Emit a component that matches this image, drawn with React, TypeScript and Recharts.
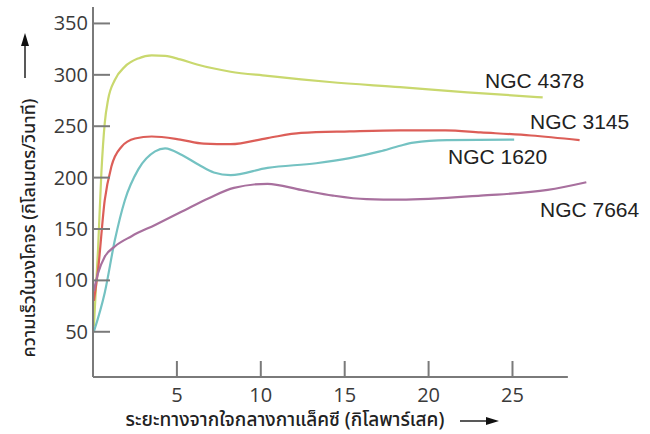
import React from 'react';
import { LineChart, Line, XAxis, YAxis, ReferenceLine } from 'recharts';

// NGC 4378
const x4378 = [0.05, 0.3, 0.5, 0.7, 0.9, 1.3, 1.9, 2.7, 3.5, 4.3, 5.2, 6.2, 8.2, 10.4, 12.4, 14.1, 18.3, 22.3, 26.8];
const y4378 = [55, 130, 205, 253, 276, 295, 308, 316, 319, 318.5, 315, 310, 303, 299, 295.5, 293, 288, 283, 278];
// NGC 3145
const x3145 = [0.05, 0.3, 0.7, 1.1, 1.7, 2.5, 3.5, 5.2, 6.6, 8.2, 10.4, 12.4, 15.3, 18.3, 21, 23.1, 26.1, 29.0];
const y3145 = [80, 110, 178, 211, 230, 238, 240, 237, 233, 232.5, 238.5, 243.5, 245, 246, 246, 244, 241, 236.5];
// NGC 1620
const x1620 = [0.05, 0.7, 1.3, 1.9, 2.7, 3.7, 4.3, 5.3, 6.3, 7.2, 8.2, 10.4, 13.3, 15.3, 17.1, 18.3, 19.1, 21.1, 25.1];
const y1620 = [50, 88, 139, 178, 208, 225.5, 228.5, 222, 212.5, 205, 202.5, 209.5, 214, 219, 225.5, 231, 234, 236.5, 237];
// NGC 7664
const x7664 = [0.05, 0.3, 0.7, 1.3, 2.3, 3.7, 5.3, 6.9, 8.4, 10.4, 12.4, 14.3, 16.3, 18.3, 23.1, 27.1, 29.4];
const y7664 = [90, 107, 123, 133, 143, 154, 167, 180, 190, 194, 188, 182.5, 179, 178.5, 182.5, 188, 195.5];

const yTicks = [50, 100, 150, 200, 250, 300, 350];
const xTicks = [5, 10, 15, 20, 25];
const seriesNames = ['NGC 4378', 'NGC 3145', 'NGC 1620', 'NGC 7664'];
const yTitle = 'ความเร็วในวงโคจร (กิโลเมตร/วินาที)';
const xTitle = 'ระยะทางจากใจกลางกาแล็คซี (กิโลพาร์เสค)';

const toPts = (xs: number[], ys: number[]) => xs.map((x, i) => ({ x, y: ys[i] }));
const d4378 = toPts(x4378, y4378);
const d3145 = toPts(x3145, y3145);
const d1620 = toPts(x1620, y1620);
const d7664 = toPts(x7664, y7664);

const AXIS = '#7a7a7a';
const TICKFONT = "'Open Sans', 'Liberation Sans', sans-serif";
const THAI = "'Noto Sans Thai', 'Noto Sans', 'DejaVu Sans', sans-serif";

const YTick = (props: any) => {
  const { x, y, payload } = props;
  return (
    <g>
      <line x1={x + 5} y1={y} x2={x + 22} y2={y} stroke={AXIS} strokeWidth={2} />
      <text x={x} y={y} dy={7} textAnchor="end" fontSize={20} fontFamily={TICKFONT} fill="#3a3a3a">
        {payload.value}
      </text>
    </g>
  );
};

const XTick = (props: any) => {
  const { x, y, payload } = props;
  return (
    <g>
      <line x1={x} y1={y} x2={x} y2={y - 16} stroke={AXIS} strokeWidth={2} />
      <text x={x} y={y + 25} textAnchor="middle" fontSize={20} fontFamily={TICKFONT} fill="#3a3a3a">
        {payload.value}
      </text>
    </g>
  );
};

export default function App() {
  return (
    <div style={{ position: 'absolute', left: 0, top: 0, width: 650, height: 434, background: '#fff' }}>
      <LineChart width={650} height={434} margin={{ top: 7, right: 62, bottom: 0, left: 0 }}>
        <XAxis
          dataKey="x"
          type="number"
          domain={[0, 29.5]}
          ticks={xTicks}
          interval={0}
          axisLine={false}
          tickLine={false}
          tickSize={0}
          tickMargin={0}
          height={57}
          tick={<XTick />}
        />
        <YAxis
          type="number"
          domain={[6, 366]}
          ticks={yTicks}
          interval={0}
          width={93}
          axisLine={{ stroke: AXIS, strokeWidth: 2 }}
          tickLine={false}
          tickSize={0}
          tickMargin={5}
          tick={<YTick />}
        />
        <ReferenceLine
          segment={[{ x: 0, y: 6 }, { x: 28.3, y: 6 }]}
          stroke={AXIS}
          strokeWidth={2}
        />
        <Line data={d4378} dataKey="y" type="monotone" stroke="#c9d86e" strokeWidth={2.2} dot={false} isAnimationActive={false} />
        <Line data={d3145} dataKey="y" type="monotone" stroke="#dc5e58" strokeWidth={2.2} dot={false} isAnimationActive={false} />
        <Line data={d1620} dataKey="y" type="monotone" stroke="#74c2c2" strokeWidth={2.2} dot={false} isAnimationActive={false} />
        <Line data={d7664} dataKey="y" type="monotone" stroke="#a8709e" strokeWidth={2.2} dot={false} isAnimationActive={false} />
      </LineChart>
      <svg width={650} height={434} style={{ position: 'absolute', left: 0, top: 0, pointerEvents: 'none' }}>
        <g fontFamily="'Liberation Sans', Arial, sans-serif" fontSize={21} fill="#222">
          <text x={485} y={88}>{seriesNames[0]}</text>
          <text x={530} y={129}>{seriesNames[1]}</text>
          <text x={448} y={164}>{seriesNames[2]}</text>
          <text x={540} y={217}>{seriesNames[3]}</text>
        </g>
        <text
          x={0}
          y={0}
          transform="translate(35,228) rotate(-90)"
          textAnchor="middle"
          fontSize={18}
          fontWeight={500}
          fontFamily={THAI}
          fill="#222"
        >
          {yTitle}
        </text>
        <line x1={25} y1={78} x2={25} y2={44} stroke="#222" strokeWidth={1.5} />
        <polygon points="25,33 21,46 29,46" fill="#111" />
        <text x={285} y={426} textAnchor="middle" fontSize={19} fontWeight={500} fontFamily={THAI} fill="#222">
          {xTitle}
        </text>
        <line x1={460} y1={421} x2={488} y2={421} stroke="#222" strokeWidth={1.5} />
        <polygon points="499,421 486,417 486,425" fill="#111" />
      </svg>
    </div>
  );
}
